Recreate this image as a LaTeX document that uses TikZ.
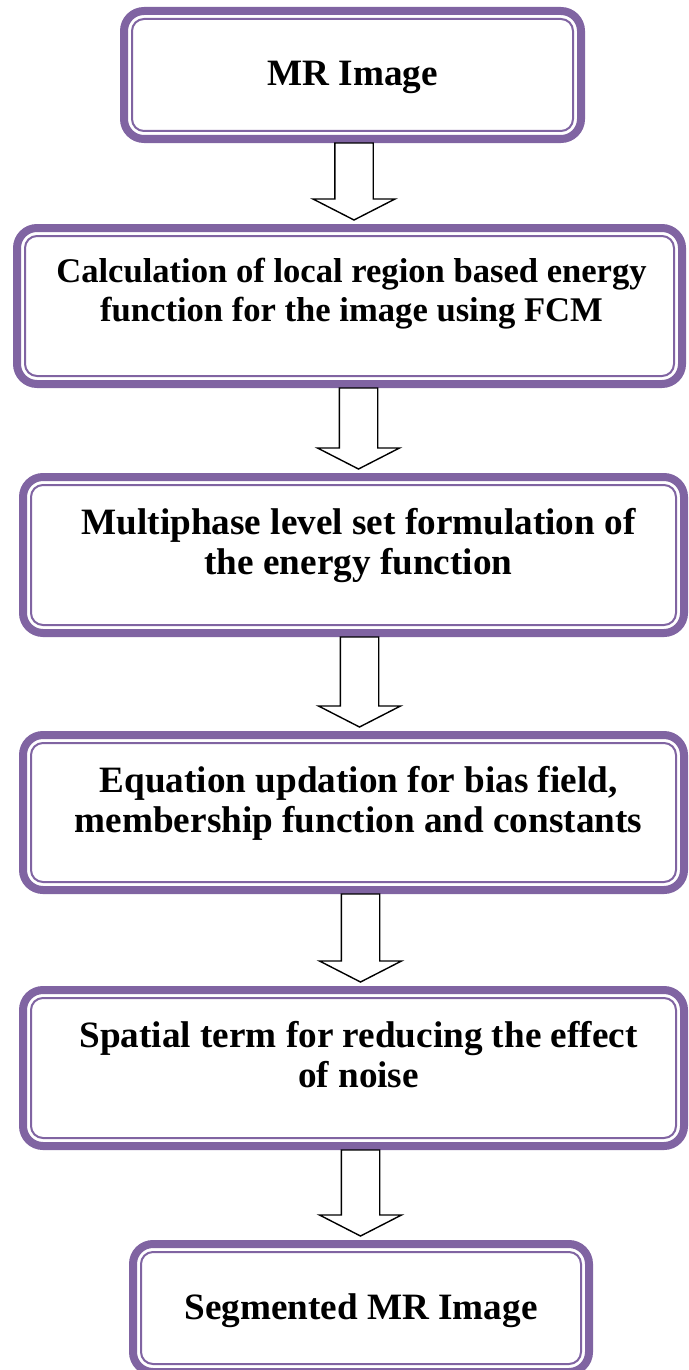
\documentclass[tikz,border=0pt]{standalone}
\usepackage{fontspec}
\setmainfont{Liberation Serif}
\usepackage{tikz}
\usetikzlibrary{calc}
\usetikzlibrary{positioning}
\definecolor{framepurple}{HTML}{8064A2}
\def\px{0.5pt}
\tikzset{
    outerframe/.style={draw=framepurple, line width=4pt, rounded corners=10pt, fill=white, inner sep=0pt},
    innerframe/.style={draw=framepurple, line width=1pt, rounded corners=6pt, inner sep=0pt},
    boxtext/.style={font=\bfseries\fontsize{17.3pt}{19.5pt}\selectfont, align=center, inner sep=0pt},
    bigtext/.style={boxtext, font=\bfseries\fontsize{18.6pt}{20pt}\selectfont},
    blockarrow/.style={draw=black, line width=0.7pt, fill=white, line join=miter,
        to path={let \p1=(\tikztostart), \p2=(\tikztotarget) in
            (\x1-9.6pt,\y1) -- (\x1+9.6pt,\y1) -- (\x1+9.6pt,\y2+10.5pt) -- (\x1+20.5pt,\y2+10.5pt)
            -- (\x1,\y2) -- (\x1-20.5pt,\y2+10.5pt) -- (\x1-9.6pt,\y2+10.5pt) -- cycle}},
}
\def\stagebox(#1)(#2,#3)(#4:#5)% Syntax: (name) (center x,center y) (width:height), all in px
    { \node[outerframe, minimum width=#4*\px-8*\px, minimum height=#5*\px-8*\px] (#1) at (#2,#3) {};
      \node[innerframe, minimum width=#4*\px-24*\px, minimum height=#5*\px-24*\px] (#1in) at (#1) {}; }

\begin{document}
\begin{tikzpicture}[x=0.5pt, y=-0.5pt]
	\useasboundingbox (0,0) rectangle (689,1370);
	\stagebox(b1)(352.5,75)(465:136)
	\stagebox(b2)(349.5,306)(673:164)
	\stagebox(b3)(353.5,555)(669:164)
	\stagebox(b4)(353.5,812.5)(669:163)
	\stagebox(b5)(353.5,1068)(669:164)
	\stagebox(b6)(361,1308)(464:136)
	
	\node[bigtext, below=27pt of b1.north] (t1) {MR Image};
	\node[boxtext, below=17pt of b2.north, xshift=1pt] (t2) {Calculation of local region based energy\\function for the image using FCM};
	\node[bigtext, below=17.5pt of b3.north, xshift=2.5pt] (t3) {Multiphase level set formulation of\\the energy function};
	\node[bigtext, below=17.5pt of b4.north, xshift=2.5pt] (t4) {Equation updation for bias field,\\membership function and constants};
	\node[bigtext, below=17.5pt of b5.north, xshift=2.5pt] (t5) {Spatial term for reducing the effect\\of noise};
	\node[bigtext, below=26.5pt of b6.north] (t6) {Segmented MR Image};
	
	\draw[blockarrow] ([xshift=0.75pt]b1.south) to ([yshift=2pt]b2.north);
	\draw[blockarrow] ([xshift=4.5pt]b2.south) to ([yshift=2pt]b3.north);
	\draw[blockarrow] ([xshift=3pt]b3.south) to ([yshift=2pt]b4.north);
	\draw[blockarrow] ([xshift=3.5pt]b4.south) to ([yshift=2pt]b5.north);
	\draw[blockarrow] ([xshift=3.5pt]b5.south) to ([yshift=2pt]b6.north);
\end{tikzpicture}
\end{document}
